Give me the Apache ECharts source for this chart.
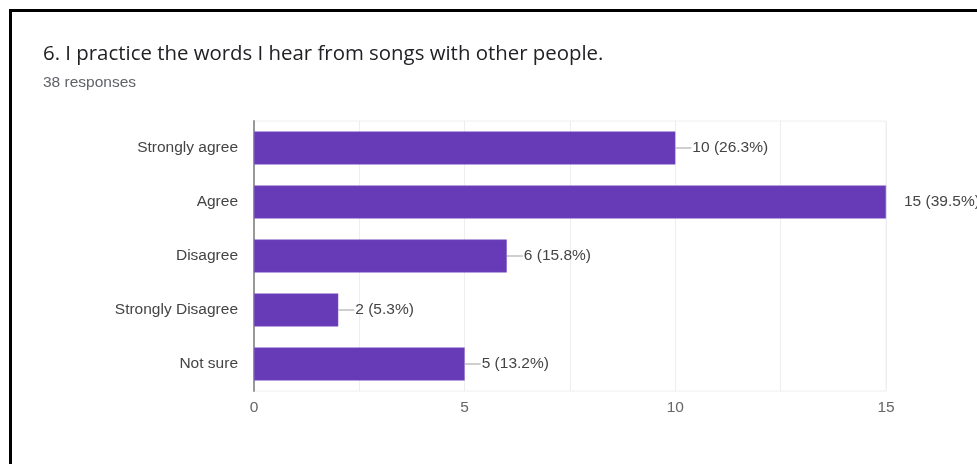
<!DOCTYPE html>
<html>
<head>
<meta charset="utf-8">
<script src="https://cdn.jsdelivr.net/npm/echarts@6/dist/echarts.min.js"></script>
<style>
html,body{margin:0;padding:0;background:#fff;overflow:hidden;}
#frame{position:absolute;left:9px;top:9px;width:1000px;height:500px;border:3px solid #000;box-sizing:border-box;}
#chart{position:absolute;left:0;top:0;width:977px;height:464px;}
</style>
</head>
<body>
<div id="frame"></div>
<div id="chart"></div>
<script>
const titleText = '6. I practice the words I hear from songs with other people.';
const subText = '38 responses';
const categories = ['Strongly agree', 'Agree', 'Disagree', 'Strongly Disagree', 'Not sure'];
const counts = [10, 15, 6, 2, 5];
const percents = ['26.3%', '39.5%', '15.8%', '5.3%', '13.2%'];
const xTicks = [0, 5, 10, 15];

const TFONT = '"Open Sans", Roboto, sans-serif';
const FONT = '"Liberation Sans", Arial, sans-serif';
const chart = echarts.init(document.getElementById('chart'), null, {renderer: 'canvas'});

const seriesData = counts.map((v, i) => {
  const item = {value: v};
  if (v === 15) {
    item.label = {
      distance: 17,
      formatter: () => '{t|' + v + ' (' + percents[i] + ')}'
    };
  }
  return item;
});

chart.setOption({
  animation: false,
  title: [{
    text: titleText,
    left: 43, top: 44, padding: 0,
    textStyle: {fontFamily: TFONT, fontSize: 20.4, fontWeight: 'normal', color: '#202124'}
  }, {
    text: subText,
    left: 43, top: 75, padding: 0,
    textStyle: {fontFamily: FONT, fontSize: 15.5, fontWeight: 'normal', color: '#5f6368'}
  }],
  grid: {
    left: 254, top: 121, width: 632, height: 270,
    show: true, borderColor: '#eeeeee', borderWidth: 1
  },
  xAxis: {
    type: 'value', min: 0, max: 15, interval: 2.5,
    axisLine: {show: false},
    axisTick: {show: false},
    splitLine: {lineStyle: {color: '#eeeeee'}},
    axisLabel: {
      fontFamily: FONT, fontSize: 15.5, color: '#666', margin: 9,
      formatter: v => xTicks.includes(v) ? String(v) : ''
    }
  },
  yAxis: {
    type: 'category', data: categories, inverse: true,
    axisLine: {show: true, lineStyle: {color: '#999', width: 2}},
    axisTick: {show: false},
    axisLabel: {fontFamily: FONT, fontSize: 15.5, color: '#444', margin: 16}
  },
  series: [{
    type: 'bar',
    data: seriesData,
    barWidth: 33,
    itemStyle: {color: '#673ab7', borderColor: '#7e57c2', borderWidth: 0.5},
    label: {
      show: true, position: 'right', distance: 0,
      formatter: p => '{ln|}{t|' + p.value + ' (' + percents[p.dataIndex] + ')}',
      rich: {
        ln: {width: 16, height: 1, backgroundColor: '#9e9e9e'},
        t: {fontFamily: FONT, fontSize: 15.5, color: '#444', padding: [0, 0, 0, 1]}
      }
    }
  }]
});
</script>
</body>
</html>
